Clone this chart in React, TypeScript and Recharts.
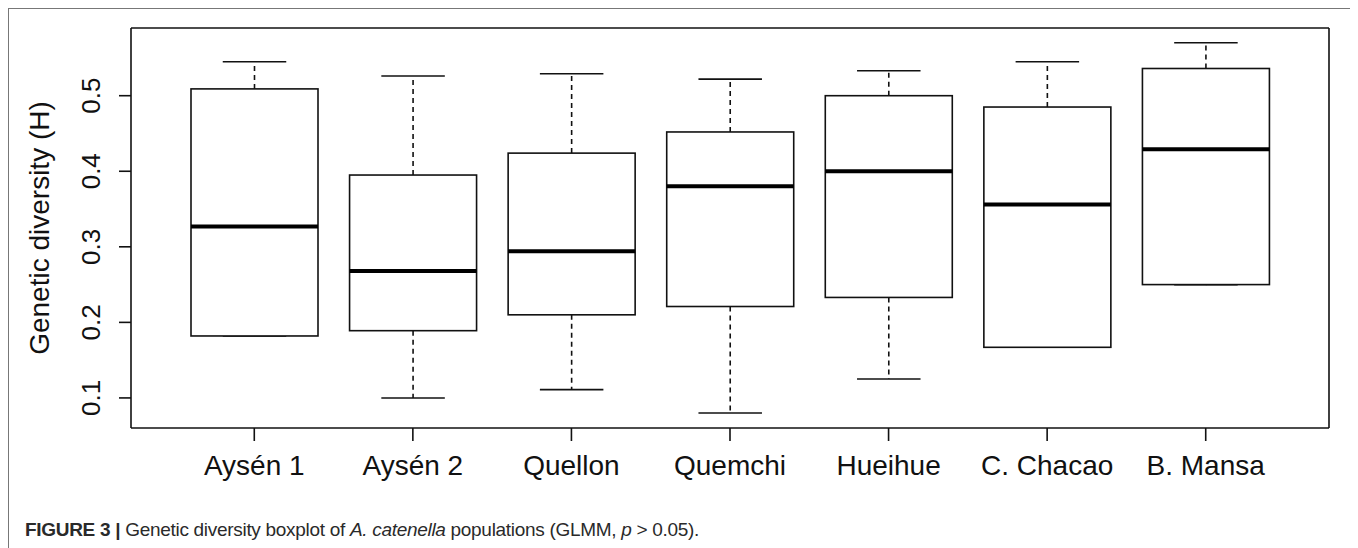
import { ComposedChart, Bar, XAxis, YAxis, CartesianGrid } from 'recharts';

const populations = ['Aysén 1', 'Aysén 2', 'Quellon', 'Quemchi', 'Hueihue', 'C. Chacao', 'B. Mansa'];
const whiskerMin = [0.182, 0.1, 0.111, 0.08, 0.125, 0.167, 0.25];
const q1 = [0.182, 0.189, 0.21, 0.221, 0.233, 0.167, 0.25];
const median = [0.327, 0.268, 0.294, 0.38, 0.4, 0.356, 0.429];
const q3 = [0.509, 0.395, 0.424, 0.452, 0.5, 0.485, 0.536];
const whiskerMax = [0.545, 0.526, 0.529, 0.522, 0.533, 0.545, 0.57];

const yTicks = [0.1, 0.2, 0.3, 0.4, 0.5];
const yDomain = [0.0602, 0.5896];

const data = populations.map((name, i) => ({
  name,
  min: whiskerMin[i],
  q1: q1[i],
  median: median[i],
  q3: q3[i],
  max: whiskerMax[i],
}));

const FONT = '"Liberation Sans", Arial, Helvetica, sans-serif';

function BoxShape(props: any) {
  const { x, y, width, height, payload } = props;
  const top = Math.min(y, y + height);
  const bot = Math.max(y, y + height);
  const { min, q1, median, q3, max } = payload;
  // map a value into pixels inside the bar's [min, max] extent
  const py = (v: number) => top + ((max - v) / (max - min)) * (bot - top);
  const cx = x + width / 2;
  const cap = width / 4;
  return (
    <g>
      <line x1={cx} x2={cx} y1={py(q3)} y2={py(max)} stroke="#111" strokeWidth={1.6} strokeDasharray="5 4" />
      <line x1={cx - cap} x2={cx + cap} y1={py(max)} y2={py(max)} stroke="#111" strokeWidth={1.6} />
      <line x1={cx} x2={cx} y1={py(q1)} y2={py(min)} stroke="#111" strokeWidth={1.6} strokeDasharray="5 4" />
      <line x1={cx - cap} x2={cx + cap} y1={py(min)} y2={py(min)} stroke="#111" strokeWidth={1.6} />
      <rect x={x} y={py(q3)} width={width} height={py(q1) - py(q3)} fill="#fff" stroke="#111" strokeWidth={1.6} />
      <line x1={x} x2={x + width} y1={py(median)} y2={py(median)} stroke="#000" strokeWidth={4} />
    </g>
  );
}

function YTick(props: any) {
  const { x, y, payload } = props;
  return (
    <text
      x={x}
      y={y}
      transform={`rotate(-90, ${x}, ${y})`}
      textAnchor="middle"
      fontSize={26}
      fontFamily={FONT}
      fill="#111"
    >
      {payload.value.toFixed(1)}
    </text>
  );
}

function YLabel(props: any) {
  const vb = props.viewBox || {};
  const lx = 40;
  const ly = vb.y + vb.height / 2;
  return (
    <text
      x={lx}
      y={ly}
      transform={`rotate(-90, ${lx}, ${ly})`}
      textAnchor="middle"
      fontSize={28}
      fontFamily={FONT}
      fill="#111"
    >
      Genetic diversity (H)
    </text>
  );
}

export default function App() {
  return (
    <div
      style={{
        position: 'relative',
        width: 1346,
        height: 560,
        border: '1px solid #777',
        background: '#fff',
      }}
    >
      <ComposedChart
        width={1340}
        height={479}
        data={data}
        margin={{ top: 19, right: 20, left: 0, bottom: 0 }}
      >
        {/* top and right edges of the plot box */}
        <CartesianGrid
          stroke="#111"
          strokeWidth={1.6}
          horizontalCoordinatesGenerator={({ offset }: any) => [offset.top]}
          verticalCoordinatesGenerator={({ offset }: any) => [offset.left + offset.width]}
        />
        <XAxis
          dataKey="name"
          padding={{ left: 44, right: 44 }}
          tick={{ fontSize: 28, fill: '#111', fontFamily: FONT }}
          tickSize={13}
          tickMargin={14}
          height={60}
          interval={0}
          axisLine={{ stroke: '#111', strokeWidth: 1.6 }}
          tickLine={{ stroke: '#111', strokeWidth: 1.6 }}
        />
        <YAxis
          type="number"
          domain={yDomain}
          allowDataOverflow
          ticks={yTicks}
          width={122}
          tickSize={12}
          tickMargin={19}
          tick={<YTick />}
          axisLine={{ stroke: '#111', strokeWidth: 1.6 }}
          tickLine={{ stroke: '#111', strokeWidth: 1.6 }}
          label={{ content: <YLabel /> }}
        />
        <Bar
          dataKey={(d: any) => [d.min, d.max]}
          barSize={127}
          shape={<BoxShape />}
          isAnimationActive={false}
        />
      </ComposedChart>
      <div
        style={{
          position: 'absolute',
          left: 16,
          top: 511,
          fontFamily: FONT,
          fontSize: 19,
          letterSpacing: '-0.3px',
          lineHeight: '20px',
          color: '#2a2a2a',
          whiteSpace: 'nowrap',
        }}
      >
        <b>FIGURE 3 |</b> Genetic diversity boxplot of <i>A. catenella</i> populations (GLMM,{' '}
        <i>p</i> &gt; 0.05).
      </div>
    </div>
  );
}
